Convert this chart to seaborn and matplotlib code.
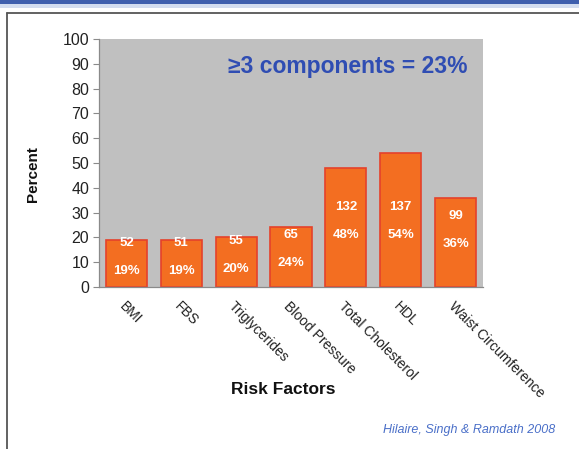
import matplotlib
matplotlib.use("Agg")
import matplotlib.pyplot as plt
from matplotlib.patches import Rectangle
from matplotlib.lines import Line2D
import seaborn as sns
import pandas as pd

# Risk factor prevalence
categories = ["BMI", "FBS", "Triglycerides", "Blood Pressure",
              "Total Cholesterol", "HDL", "Waist Circumference"]
counts = [52, 51, 55, 65, 132, 137, 99]
percents = [19, 19, 20, 24, 48, 54, 36]
y_ticks = list(range(0, 101, 10))

df = pd.DataFrame({"factor": categories, "percent": percents, "count": counts})

sns.set_theme(style="white")
plt.rcParams["font.family"] = ["Liberation Sans", "DejaVu Sans"]

W, H = 579, 449
fig = plt.figure(figsize=(W / 100, H / 100), dpi=100)
fig.patch.set_facecolor("white")

# Header band and slide frame
fig.add_artist(Rectangle((0, 1 - 4 / H), 1, 4 / H, transform=fig.transFigure,
                         facecolor="#3F5FAE", edgecolor="none"))
fig.add_artist(Rectangle((0, 1 - 8 / H), 1, 4 / H, transform=fig.transFigure,
                         facecolor="#D3DDF0", edgecolor="none"))
fig.add_artist(Line2D([6.5 / W, 6.5 / W], [0, 1 - 12.5 / H], transform=fig.transFigure,
                      color="#555555", lw=1.3))
fig.add_artist(Line2D([6.5 / W, 1], [1 - 12.5 / H, 1 - 12.5 / H], transform=fig.transFigure,
                      color="#555555", lw=1.3))

ax = fig.add_axes([99 / W, 1 - 287 / H, (483 - 99) / W, (287 - 39) / H])
ax.set_facecolor("#C0C0C0")

sns.barplot(data=df, x="factor", y="percent", ax=ax, color="#F36E21",
            width=0.75, saturation=1, edgecolor="#E5412B", linewidth=1.2)

ax.set_ylim(0, 100)
ax.set_xlim(-0.5, len(categories) - 0.5)
ax.set_yticks(y_ticks)
ax.set_yticklabels([str(t) for t in y_ticks], fontsize=11.5, color="#222222")

# Category labels centred on bars, tick marks on category boundaries
ax.set_xticks(range(len(categories)))
ax.set_xticklabels(categories, rotation=-45, ha="left", va="top",
                   rotation_mode="anchor", fontsize=10, color="#222222")
ax.set_xticks([i - 0.5 for i in range(len(categories) + 1)], minor=True)
ax.tick_params(axis="x", which="major", length=0, pad=9)
ax.tick_params(axis="x", which="minor", length=4, width=0.8, color="#8A8A8A", direction="out")
ax.tick_params(axis="y", length=4, width=0.8, color="#8A8A8A", direction="out", pad=3, left=True)

for side in ["top", "right"]:
    ax.spines[side].set_visible(False)
for side in ["left", "bottom"]:
    ax.spines[side].set_color("#8A8A8A")
    ax.spines[side].set_linewidth(0.9)

ax.set_xlabel("")
ax.set_ylabel("")

# Count and percentage labels inside each bar
for i, (c, p) in enumerate(zip(counts, percents)):
    yc = min(0.64 * p, 26.5)
    ax.annotate(str(c), (i, yc), xytext=(0, 10), textcoords="offset points",
                ha="center", va="center", color="white", fontsize=9.5, fontweight="bold")
    ax.annotate(f"{p}%", (i, yc), xytext=(0, -10), textcoords="offset points",
                ha="center", va="center", color="white", fontsize=9.5, fontweight="bold")

ax.text(468 / W, 1 - 67 / H, "≥3 components = 23%", transform=fig.transFigure,
        ha="right", va="center", color="#2F4DB3", fontsize=16.5, fontweight="bold")

fig.text(33 / W, 1 - 174 / H, "Percent", rotation=90, ha="center", va="center",
         fontsize=11, fontweight="bold", color="#111111")
fig.text(283 / W, 1 - 390 / H, "Risk Factors", ha="center", va="center",
         fontsize=12.5, fontweight="bold", color="#111111")
fig.text(555 / W, 1 - 430 / H, "Hilaire, Singh & Ramdath 2008", ha="right", va="center",
         fontsize=9, style="italic", color="#4A6FC8")

fig.savefig("out.png", dpi=100)
